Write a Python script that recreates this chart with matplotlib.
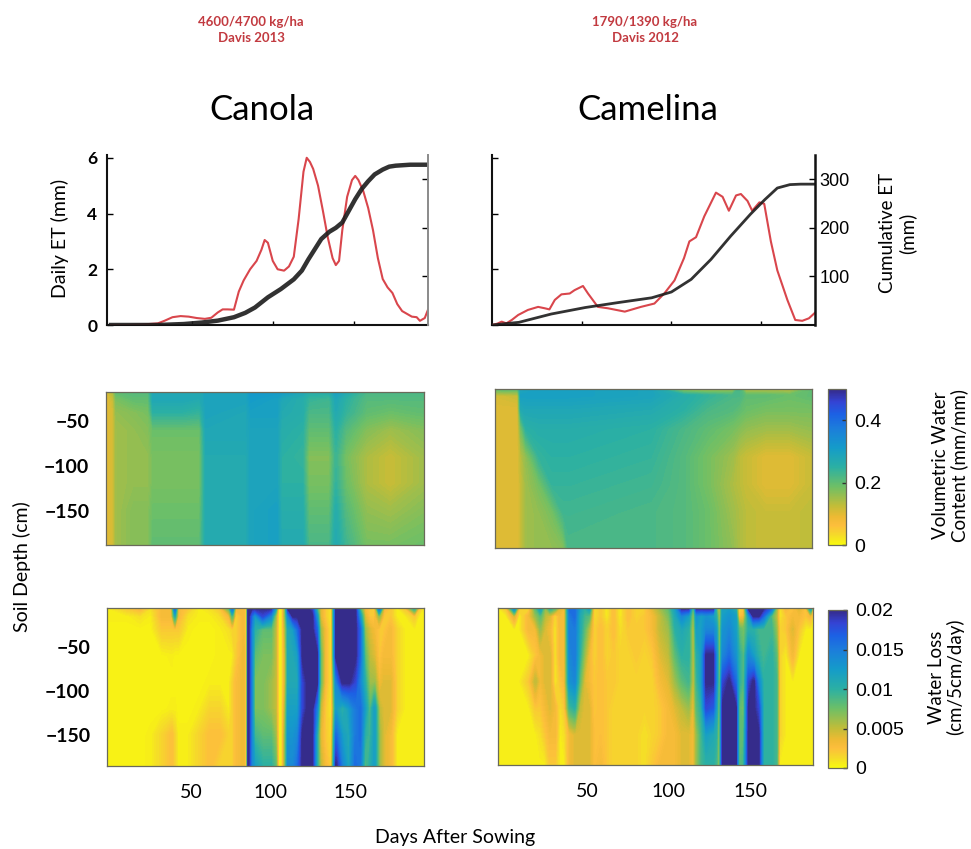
import numpy as np
import matplotlib
matplotlib.use("Agg")
import matplotlib.pyplot as plt
from matplotlib.colors import LinearSegmentedColormap, Normalize
from matplotlib.cm import ScalarMappable

# ------------------------------------------------------------------ data
# Top panels: daily ET (mm, left axis) and cumulative ET (mm, right axis)
canola_et_day = [0, 10, 20, 29, 33, 38, 43, 48, 53, 58, 62, 66, 69, 72, 76, 79, 82, 86, 90,
                 93, 95, 97, 100, 103, 107, 110, 113, 116, 119, 121, 123, 125, 128, 131, 134,
                 137, 139, 141, 143, 146, 149, 151, 153, 156, 159, 162, 165, 168, 171, 174,
                 177, 180, 183, 186, 189, 191, 194, 196]
canola_et = [0, 0, 0.02, 0.06, 0.15, 0.28, 0.32, 0.30, 0.25, 0.22, 0.26, 0.45, 0.56, 0.56,
             0.55, 1.2, 1.6, 2.0, 2.3, 2.7, 3.05, 2.95, 2.3, 2.0, 1.95, 2.1, 2.45, 3.8, 5.5,
             6.0, 5.85, 5.6, 5.0, 4.1, 3.15, 2.4, 2.15, 2.3, 3.4, 4.6, 5.2, 5.35, 5.2, 4.8,
             4.2, 3.4, 2.4, 1.65, 1.35, 1.15, 0.75, 0.5, 0.4, 0.3, 0.28, 0.15, 0.25, 0.55]
canola_cum_day = [0, 29, 45, 56, 66, 76, 83, 89, 97, 105, 113, 118, 122, 126, 130, 135, 139,
                  143, 147, 151, 155, 159, 163, 168, 172, 176, 185, 196]
canola_cum = [0, 0, 2, 5, 9, 16, 25, 36, 57, 74, 94, 112, 135, 156, 177, 192, 200, 211, 235,
              259, 280, 296, 310, 320, 326, 328, 330, 330]

camelina_et_day = [0, 3, 5.4, 8, 11, 14.6, 20, 25.7, 29.4, 32, 35, 38.7, 43.3, 46, 50.7, 53.5,
                   59, 64.6, 74, 83, 90.5, 96, 101.7, 107, 110, 113.7, 118.3, 124.8, 128.5,
                   132, 136, 138.7, 142.4, 145, 149, 151.7, 155.4, 159, 164.6, 169, 172.9,
                   176.6, 180]
camelina_et = [0, 0.05, 0.12, 0.06, 0.18, 0.36, 0.54, 0.65, 0.6, 0.56, 0.9, 1.1, 1.13, 1.25,
               1.4, 1.13, 0.65, 0.6, 0.48, 0.65, 0.77, 1.13, 1.6, 2.4, 3.0, 3.15, 3.9, 4.75,
               4.6, 4.1, 4.65, 4.7, 4.45, 4.1, 4.4, 4.35, 3.0, 1.96, 0.9, 0.18, 0.15, 0.24,
               0.44]
camelina_cum_day = [0, 15, 33, 52, 70, 89, 100, 111, 122, 133, 144, 152, 159, 166, 172, 180]
camelina_cum = [0, 5.5, 22.6, 36, 46, 56, 68, 94, 135, 183, 228, 258, 282, 289, 290, 290]

# Middle panels: volumetric water content (mm/mm); one list per day column, top -> bottom
vwc_depths = [-18, -25, -40, -60, -90, -120, -150, -188]
canola_vwc_days = [-2.5, 2, 4, 15, 24, 27, 45, 56, 60, 85, 88, 104, 107, 120, 124, 137,
                   141, 147, 160, 175, 196]
canola_vwc = [
    [0.10, 0.09, 0.09, 0.09, 0.09, 0.09, 0.09, 0.09],
    [0.14, 0.12, 0.11, 0.11, 0.11, 0.11, 0.11, 0.11],
    [0.20, 0.18, 0.16, 0.15, 0.15, 0.15, 0.15, 0.15],
    [0.21, 0.20, 0.17, 0.16, 0.16, 0.16, 0.17, 0.17],
    [0.21, 0.20, 0.18, 0.17, 0.16, 0.16, 0.17, 0.17],
    [0.28, 0.28, 0.25, 0.19, 0.18, 0.18, 0.19, 0.20],
    [0.28, 0.28, 0.25, 0.19, 0.18, 0.18, 0.19, 0.20],
    [0.27, 0.27, 0.24, 0.19, 0.18, 0.18, 0.19, 0.20],
    [0.29, 0.29, 0.29, 0.28, 0.27, 0.27, 0.27, 0.27],
    [0.29, 0.29, 0.28, 0.28, 0.27, 0.27, 0.27, 0.27],
    [0.32, 0.31, 0.30, 0.29, 0.29, 0.29, 0.29, 0.29],
    [0.31, 0.30, 0.30, 0.29, 0.29, 0.29, 0.30, 0.30],
    [0.31, 0.28, 0.27, 0.26, 0.25, 0.25, 0.26, 0.27],
    [0.28, 0.26, 0.26, 0.25, 0.24, 0.25, 0.26, 0.27],
    [0.26, 0.24, 0.22, 0.20, 0.17, 0.18, 0.20, 0.22],
    [0.26, 0.23, 0.22, 0.20, 0.17, 0.18, 0.20, 0.22],
    [0.30, 0.28, 0.27, 0.25, 0.23, 0.24, 0.26, 0.27],
    [0.27, 0.25, 0.24, 0.21, 0.18, 0.19, 0.21, 0.23],
    [0.22, 0.21, 0.20, 0.17, 0.14, 0.14, 0.16, 0.18],
    [0.22, 0.21, 0.19, 0.15, 0.12, 0.12, 0.15, 0.18],
    [0.22, 0.21, 0.20, 0.17, 0.15, 0.15, 0.17, 0.19],
]
camelina_vwc_days = [-5, 9, 11, 14, 22, 30, 37, 40, 90, 110, 125, 140, 144, 148, 160, 175,
                     188.5]
camelina_vwc = [
    [0.20, 0.11, 0.10, 0.10, 0.10, 0.10, 0.10, 0.10],
    [0.20, 0.12, 0.10, 0.10, 0.10, 0.10, 0.10, 0.10],
    [0.28, 0.30, 0.27, 0.18, 0.13, 0.12, 0.12, 0.12],
    [0.29, 0.30, 0.28, 0.25, 0.16, 0.15, 0.15, 0.15],
    [0.30, 0.30, 0.28, 0.26, 0.24, 0.18, 0.16, 0.16],
    [0.30, 0.30, 0.28, 0.26, 0.25, 0.24, 0.18, 0.16],
    [0.30, 0.30, 0.28, 0.26, 0.25, 0.24, 0.23, 0.17],
    [0.30, 0.30, 0.28, 0.26, 0.25, 0.24, 0.23, 0.22],
    [0.29, 0.29, 0.27, 0.25, 0.24, 0.23, 0.22, 0.22],
    [0.14, 0.26, 0.25, 0.22, 0.21, 0.21, 0.21, 0.21],
    [0.13, 0.24, 0.22, 0.20, 0.18, 0.18, 0.19, 0.19],
    [0.14, 0.22, 0.21, 0.18, 0.15, 0.14, 0.15, 0.16],
    [0.22, 0.22, 0.20, 0.17, 0.13, 0.13, 0.14, 0.14],
    [0.12, 0.20, 0.19, 0.16, 0.12, 0.12, 0.13, 0.13],
    [0.12, 0.20, 0.18, 0.15, 0.10, 0.10, 0.12, 0.12],
    [0.12, 0.19, 0.18, 0.15, 0.10, 0.10, 0.12, 0.12],
    [0.20, 0.20, 0.18, 0.16, 0.12, 0.12, 0.13, 0.13],
]

# Bottom panels: water loss (in units of 0.001 cm/5cm/day); one list per day column
wl_depths = [-6, -15, -30, -60, -90, -120, -150, -185]
canola_wl_days = [-2.5, 10, 18, 25, 32, 38, 40, 42, 48, 55, 62, 68, 74, 76, 78, 83, 85, 86,
                  88, 90, 95, 100, 103, 105, 107, 109, 111, 114, 117, 120, 123, 126, 129,
                  131, 134, 138, 141, 145, 149, 153, 156, 159, 162, 165, 168, 171, 175, 179,
                  184, 190, 193, 196]
canola_wl = [
    [0.5, 0.5, 0.3, 0.3, 0.3, 0.3, 0.3, 0.3],
    [2, 0.5, 0.3, 0.3, 0.3, 0.3, 0.3, 0.3],
    [3, 1, 0.3, 0.3, 0.3, 0.3, 0.3, 0.3],
    [1, 0.5, 0.3, 0.3, 0.3, 0.3, 0.5, 0.5],
    [3, 3, 2, 0.3, 0.3, 0.3, 1.5, 1.5],
    [3, 3, 2, 0.5, 0.3, 0.5, 2.5, 2.5],
    [16, 10, 2, 0.3, 0.3, 0.5, 1.5, 1.5],
    [3, 3, 2, 0.3, 0.3, 0.3, 0.5, 0.5],
    [2, 1, 0.5, 0.3, 0.3, 0.3, 0.5, 0.5],
    [0.5, 0.5, 0.3, 0.3, 0.3, 0.5, 1.5, 1.5],
    [1, 0.5, 0.3, 0.3, 0.5, 1.5, 2.5, 2.5],
    [2, 1, 0.5, 0.5, 0.5, 1.5, 2.5, 1.5],
    [8, 3, 1, 0.5, 0.5, 0.5, 1.5, 1.5],
    [16, 8, 1.5, 0.5, 1.5, 1.5, 1.5, 1.5],
    [3, 1.5, 1.5, 1.5, 2.5, 2.5, 2.5, 2.5],
    [3, 3, 3, 3.5, 3.5, 3.5, 3.5, 3.5],
    [0.5, 0.5, 0.5, 0.5, 0.5, 0.5, 0.5, 0.5],
    [20, 20, 20, 20, 20, 20, 20, 20],
    [20, 16, 14, 14, 14, 14, 14, 14],
    [20, 12, 10, 8, 7, 7, 9, 12],
    [20, 18, 8, 7, 7, 7, 8, 10],
    [20, 14, 8, 7, 6, 6, 8, 10],
    [12, 6, 5, 5, 5, 5, 6, 8],
    [0.5, 0.5, 0.5, 0.5, 0.5, 0.5, 0.5, 0.5],
    [0.5, 0.5, 0.5, 0.5, 0.5, 0.5, 0.5, 0.5],
    [6, 6, 5, 4, 4, 5, 6, 6],
    [20, 14, 11, 11, 11, 12, 13, 14],
    [20, 20, 12, 11, 11, 12, 13, 14],
    [20, 20, 16, 12, 11, 12, 14, 16],
    [20, 20, 20, 20, 18, 18, 20, 20],
    [20, 20, 20, 20, 20, 20, 20, 20],
    [18, 20, 20, 20, 20, 20, 20, 20],
    [8, 12, 16, 20, 20, 14, 10, 10],
    [4, 4, 6, 8, 8, 5, 4, 5],
    [2, 2, 3, 3, 3, 2, 2, 3],
    [0.5, 0.5, 0.5, 0.5, 0.5, 0.5, 1, 1.5],
    [20, 20, 20, 20, 14, 12, 16, 20],
    [20, 20, 20, 20, 20, 10, 12, 14],
    [20, 20, 20, 20, 20, 12, 11, 11],
    [20, 20, 20, 20, 18, 15, 15, 16],
    [8, 12, 16, 16, 14, 16, 16, 15],
    [3, 4, 6, 8, 10, 12, 10, 8],
    [2, 2, 4, 5, 6, 8, 9, 10],
    [1, 2, 3, 4, 6, 12, 12, 12],
    [16, 6, 2, 2, 3, 5, 6, 6],
    [3, 2, 2, 3, 4, 4, 4, 4],
    [2, 2, 3, 3, 4, 4, 3, 3],
    [0.5, 0.5, 1.5, 1.5, 1.5, 1.5, 0.5, 0.5],
    [2, 0.5, 0.5, 0.5, 0.5, 0.5, 0.5, 0.5],
    [10, 2, 0.5, 0.5, 0.5, 0.5, 0.5, 0.5],
    [2, 0.5, 0.5, 0.5, 0.5, 0.5, 0.5, 0.5],
    [0.5, 0.5, 0.5, 0.5, 0.5, 0.5, 0.5, 0.5],
]
camelina_wl_days = [-5, 0, 5, 8, 14, 18, 21, 24, 27, 30, 33, 36, 39, 42, 45, 48, 51, 54, 58,
                    62, 66, 70, 75, 80, 85, 90, 95, 100, 104, 108, 112, 115, 117, 120, 123,
                    127, 129, 131, 133, 137, 141, 143, 146, 149, 152, 155, 158, 163, 166,
                    168, 172, 176, 180, 184, 187, 188.5]
camelina_wl = [
    [0.5, 0.5, 0.5, 0.5, 0.5, 0.5, 0.5, 0.5],
    [2, 0.5, 0.5, 0.5, 0.5, 0.5, 0.5, 0.5],
    [14, 4, 0.5, 0.5, 0.5, 0.5, 0.5, 0.5],
    [2, 0.5, 0.5, 0.5, 0.5, 0.5, 0.5, 0.5],
    [1, 3, 3, 0.5, 2, 0.5, 0.5, 0.5],
    [8, 6, 3, 2, 5, 2, 0.5, 0.5],
    [12, 8, 6, 3, 3, 2, 1, 0.5],
    [6, 5, 4, 4, 4, 3, 2, 0.5],
    [10, 4, 3, 4, 4, 4, 3, 2],
    [8, 1, 0.5, 0.5, 0.5, 3, 3, 2],
    [4, 3, 3, 3, 2, 1, 0.5, 0.5],
    [3, 3, 3, 3, 3, 2, 1, 0.5],
    [16, 15, 15, 14, 13, 9, 3, 3],
    [16, 16, 15, 15, 14, 10, 4, 4],
    [12, 11, 11, 10, 8, 5, 4, 4],
    [10, 9, 8, 6, 4, 4, 4, 4],
    [12, 8, 5, 3, 3, 4, 4, 4],
    [1, 1, 1.5, 1.5, 2, 2, 2.5, 2.5],
    [2, 2, 2.5, 2.5, 2.5, 2.5, 2.5, 3],
    [0.5, 0.5, 1.5, 1.5, 2, 2, 2, 2],
    [2.5, 2.5, 2.5, 2, 2, 1.5, 1.5, 1.5],
    [0.5, 0.5, 1, 1.5, 1.5, 1.5, 1.5, 1.5],
    [2.5, 2.5, 2, 1.5, 1.5, 1.5, 1.5, 1.5],
    [1.5, 1.5, 2, 2, 1.5, 1.5, 1.5, 1.5],
    [1.5, 2, 2, 1.5, 1.5, 1.5, 1, 1],
    [4, 3, 3, 2, 1.5, 1.5, 1.5, 2],
    [6, 5, 5, 4, 3, 2, 2, 3],
    [8, 7, 6, 5, 4, 3, 3, 3],
    [12, 11, 10, 8, 6, 4, 3, 3],
    [20, 14, 11, 10, 8, 5, 4, 4],
    [20, 12, 10, 10, 9, 6, 4, 4],
    [6, 5, 4, 4, 4, 3, 3, 3],
    [20, 13, 12, 10, 9, 8, 6, 6],
    [20, 12, 12, 12, 12, 10, 9, 9],
    [20, 13, 14, 20, 20, 18, 12, 10],
    [20, 12, 14, 20, 20, 17, 11, 10],
    [8, 10, 12, 14, 14, 12, 10, 9],
    [3, 4, 5, 5, 5, 5, 5, 5],
    [12, 12, 13, 14, 18, 20, 20, 20],
    [12, 13, 14, 16, 20, 20, 20, 20],
    [10, 12, 12, 13, 16, 20, 20, 20],
    [0.5, 2, 8, 10, 10, 8, 8, 8],
    [2, 3, 7, 8, 8, 7, 8, 9],
    [20, 12, 10, 14, 18, 20, 20, 20],
    [20, 20, 10, 12, 20, 20, 20, 20],
    [20, 20, 9, 10, 14, 18, 20, 20],
    [20, 16, 9, 9, 10, 10, 10, 10],
    [16, 8, 9, 10, 10, 10, 10, 10],
    [6, 5, 6, 8, 9, 9, 9, 9],
    [0.5, 0.5, 1.5, 1.5, 1.5, 1.5, 1.5, 0.5],
    [3, 2, 2, 0.5, 0.5, 0.5, 0.5, 0.5],
    [2, 3, 4, 3, 0.5, 0.5, 0.5, 0.5],
    [4, 3, 2, 0.5, 0.5, 0.5, 0.5, 0.5],
    [2, 2, 0.5, 0.5, 0.5, 0.5, 0.5, 0.5],
    [12, 3, 0.5, 0.5, 0.5, 0.5, 0.5, 0.5],
    [3, 0.5, 0.5, 0.5, 0.5, 0.5, 0.5, 0.5],
]

crop_titles = ["Canola", "Camelina"]
yield_notes = ["4600/4700 kg/ha\nDavis 2013", "1790/1390 kg/ha\nDavis 2012"]
day_ticks = [50, 100, 150]
depth_ticks = [-150, -100, -50]
vwc_ticks = [0, 0.2, 0.4]
wl_ticks = [0, 0.005, 0.01, 0.015, 0.02]
wl_ticklabels = ["0", "0.005", "0.01", "0.015", "0.02"]

# ------------------------------------------------------------------ style
CAL = ["Lato", "DejaVu Sans"]
HEL = ["Liberation Sans", "DejaVu Sans"]
RED = "#d9464c"
NOTE_RED = "#c23a40"

parula = LinearSegmentedColormap.from_list("parula", [
    (0.00, (0.208, 0.166, 0.529)),
    (0.08, (0.205, 0.262, 0.830)),
    (0.16, (0.110, 0.380, 0.895)),
    (0.25, (0.110, 0.490, 0.860)),
    (0.375, (0.080, 0.610, 0.790)),
    (0.50, (0.170, 0.690, 0.640)),
    (0.625, (0.430, 0.750, 0.400)),
    (0.75, (0.760, 0.740, 0.220)),
    (0.82, (0.930, 0.730, 0.200)),
    (0.875, (0.990, 0.745, 0.235)),
    (0.94, (0.960, 0.860, 0.160)),
    (1.00, (0.976, 0.983, 0.054)),
])
cmap = parula.reversed()

W, H = 971, 849
fig = plt.figure(figsize=(W / 100, H / 100), dpi=100)


def box(x0, y0, x1, y1):
    return [x0 / W, 1 - y1 / H, (x1 - x0) / W, (y1 - y0) / H]


def top_panel(b, et_day, et, cum_day, cum, xlim, left_lab, right_lab, cum_lw):
    ax = fig.add_axes(b)
    ax.plot(et_day, et, color=RED, lw=1.5, zorder=3)
    ax.set_xlim(*xlim)
    ax.set_ylim(0, 6.1)
    ax.set_xticks(day_ticks)
    ax.set_yticks([0, 2, 4, 6])
    ax.tick_params(axis="x", direction="in", length=3, width=1, labelbottom=False)
    ax.tick_params(axis="y", direction="in", length=4, width=1, labelleft=left_lab,
                   labelsize=12.5, pad=7)
    for t in ax.get_yticklabels():
        t.set_fontfamily(CAL)
        t.set_fontweight("bold")
    for s in ("top", "right"):
        ax.spines[s].set_visible(False)
    for s in ("left", "bottom"):
        ax.spines[s].set_linewidth(1.5)
        ax.spines[s].set_color("#111111")
    ax2 = ax.twinx()
    ax2.plot(cum_day, cum, color="#1c1c1c", lw=cum_lw, alpha=0.9, zorder=2)
    ax2.set_ylim(0, 350)
    ax2.set_yticks([100, 200, 300])
    ax2.tick_params(axis="y", direction="in", length=4, width=1, labelright=right_lab,
                    labelsize=13, pad=3)
    for t in ax2.get_yticklabels():
        t.set_fontfamily(HEL)
    for s in ("top", "left", "bottom"):
        ax2.spines[s].set_visible(False)
    ax2.spines["right"].set_linewidth(1.8 if right_lab else 1.4)
    ax2.spines["right"].set_color("#111111" if right_lab else "#8a8a8a")
    return ax, ax2


def heat_panel(b, days, depths, cols, scale, vmax, xlim, ylim, ylab, xlab):
    ax = fig.add_axes(b)
    X, Y = np.meshgrid(np.asarray(days, float), np.asarray(depths, float))
    Z = np.asarray(cols, float).T * scale
    cs = ax.contourf(X, Y, Z, levels=np.linspace(0, vmax, 97), cmap=cmap,
                     extend="both", antialiased=False)
    cs.set_edgecolor("face")
    cs.set_linewidth(0.4)
    ax.set_xlim(*xlim)
    ax.set_ylim(*ylim)
    ax.set_yticks(depth_ticks)
    ax.set_xticks(day_ticks)
    ax.tick_params(length=0, labelsize=14, pad=12)
    ax.tick_params(axis="y", labelleft=ylab)
    ax.tick_params(axis="x", labelbottom=xlab, pad=13)
    for t in ax.get_yticklabels():
        t.set_fontfamily(CAL)
        t.set_fontweight("bold")
    for t in ax.get_xticklabels():
        t.set_fontfamily(CAL)
    for s in ax.spines.values():
        s.set_linewidth(0.9)
        s.set_color("#6a6a5a")
    return ax


def colorbar(b, vmax, ticks, labels):
    cax = fig.add_axes(b)
    cb = fig.colorbar(ScalarMappable(norm=Normalize(0, vmax), cmap=cmap), cax=cax)
    cb.set_ticks(ticks)
    cb.set_ticklabels(labels)
    cax.tick_params(direction="in", length=3, width=1, color="#333333", labelsize=14, pad=6)
    for t in cax.get_yticklabels():
        t.set_fontfamily(HEL)
    cb.outline.set_linewidth(0.9)
    cb.outline.set_edgecolor("#6a6a5a")
    return cb


# ------------------------------------------------------------------ top row
top_panel(box(107, 155, 428, 325), canola_et_day, canola_et, canola_cum_day, canola_cum,
          (-2.5, 196), True, False, 3.2)
top_panel(box(492, 155, 815, 325), camelina_et_day, camelina_et, camelina_cum_day,
          camelina_cum, (0, 180), False, True, 2.0)

# ------------------------------------------------------------------ middle row
heat_panel(box(106, 392, 424, 545), canola_vwc_days, vwc_depths, canola_vwc, 1.0, 0.5,
           (-2.5, 196), (-188, -18), True, False)
heat_panel(box(495, 389, 812, 548), camelina_vwc_days, vwc_depths, camelina_vwc, 1.0, 0.5,
           (-5, 188.5), (-188, -18), False, False)
colorbar(box(828, 389, 846, 545), 0.5, vwc_ticks, ["0", "0.2", "0.4"])

# ------------------------------------------------------------------ bottom row
heat_panel(box(107, 608, 424, 766), canola_wl_days, wl_depths, canola_wl, 0.001, 0.02,
           (-2.5, 196), (-185, -6), True, True)
heat_panel(box(498, 608, 813, 765), camelina_wl_days, wl_depths, camelina_wl, 0.001, 0.02,
           (-5, 188.5), (-185, -6), False, True)
colorbar(box(828, 610, 847, 768), 0.02, wl_ticks, wl_ticklabels)

# ------------------------------------------------------------------ texts
fig.text(262 / W, 1 - 110 / H, crop_titles[0], fontsize=25, family=CAL,
         ha="center", va="center")
fig.text(648 / W, 1 - 110 / H, crop_titles[1], fontsize=25, family=CAL,
         ha="center", va="center")
fig.text(251 / W, 1 - 30 / H, yield_notes[0], fontsize=9.5, family=CAL, weight="bold",
         color=NOTE_RED, ha="center", va="center", linespacing=1.35)
fig.text(645 / W, 1 - 30 / H, yield_notes[1], fontsize=9.5, family=CAL, weight="bold",
         color=NOTE_RED, ha="center", va="center", linespacing=1.35)

fig.text(60 / W, 1 - 238 / H, "Daily ET (mm)", rotation=90, fontsize=14, family=CAL,
         ha="center", va="center")
fig.text(898 / W, 1 - 233 / H, "Cumulative ET\n(mm)", rotation=90, fontsize=13.5,
         family=CAL, ha="center", va="center", linespacing=1.15)
fig.text(22 / W, 1 - 567 / H, "Soil Depth (cm)", rotation=90, fontsize=14, family=CAL,
         ha="center", va="center")
fig.text(950 / W, 1 - 465 / H, "Volumetric Water\nContent (mm/mm)", rotation=90,
         fontsize=13.5, family=CAL, ha="center", va="center", linespacing=1.1)
fig.text(946 / W, 1 - 677 / H, "Water Loss\n(cm/5cm/day)", rotation=90, fontsize=13.5,
         family=CAL, ha="center", va="center", linespacing=1.1)
fig.text(455 / W, 1 - 838 / H, "Days After Sowing", fontsize=14, family=CAL,
         ha="center", va="center")

fig.savefig("out.png", dpi=100)
